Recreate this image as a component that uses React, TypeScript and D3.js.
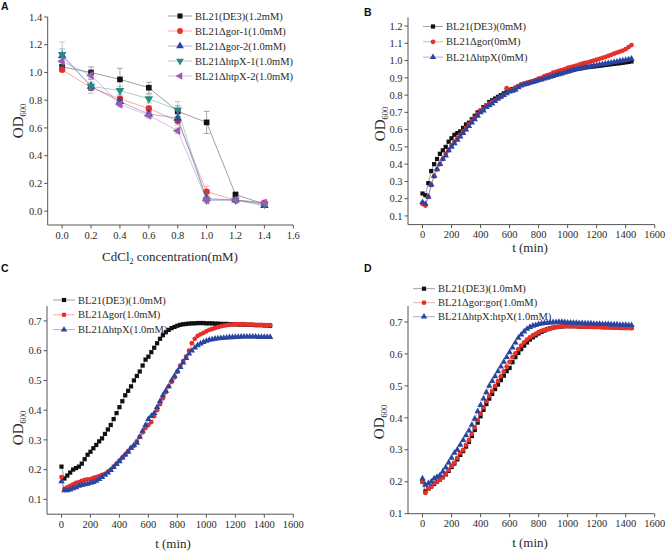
import React from "react";
import * as d3 from "d3";

// ---------- DATA ----------
const CONC = [0, 0.2, 0.4, 0.6, 0.8, 1.0, 1.2, 1.4];
const A_DE3 = [1.04, 1.0, 0.95, 0.89, 0.72, 0.64, 0.12, 0.05];
const A_DE3_ERR = [0.01, 0.04, 0.08, 0.04, 0.04, 0.08, 0.01, 0.01];
const A_GOR1 = [1.02, 0.89, 0.81, 0.74, 0.65, 0.14, 0.08, 0.06];
const A_GOR1_ERR = [0.01, 0.02, 0.02, 0.02, 0.03, 0.04, 0.01, 0.01];
const A_GOR2 = [1.12, 0.9, 0.79, 0.7, 0.67, 0.09, 0.08, 0.04];
const A_GOR2_ERR = [0.05, 0.03, 0.03, 0.02, 0.03, 0.02, 0.01, 0.01];
const A_HTPX1 = [1.13, 0.9, 0.87, 0.81, 0.73, 0.08, 0.08, 0.05];
const A_HTPX1_ERR = [0.09, 0.05, 0.03, 0.03, 0.06, 0.02, 0.01, 0.01];
const A_HTPX2 = [1.08, 0.98, 0.77, 0.69, 0.58, 0.08, 0.08, 0.06];
const A_HTPX2_ERR = [0.03, 0.03, 0.02, 0.02, 0.02, 0.02, 0.01, 0.01];

const TIME = [
  0, 20, 40, 60, 80, 100, 120, 140, 160, 180, 200, 220, 240, 260, 280, 300, 320, 340, 360, 380,
  400, 420, 440, 460, 480, 500, 520, 540, 560, 580, 600, 620, 640, 660, 680, 700, 720, 740, 760, 780,
  800, 820, 840, 860, 880, 900, 920, 940, 960, 980, 1000, 1020, 1040, 1060, 1080, 1100, 1120, 1140, 1160, 1180,
  1200, 1220, 1240, 1260, 1280, 1300, 1320, 1340, 1360, 1380, 1400, 1420, 1440,
];

const B_DE3 = [
  0.23, 0.22, 0.29, 0.36, 0.40, 0.43, 0.46, 0.48, 0.50, 0.53,
  0.55, 0.57, 0.58, 0.59, 0.61, 0.63, 0.64, 0.66, 0.68, 0.70,
  0.71, 0.73, 0.74, 0.76, 0.77, 0.78, 0.79, 0.80, 0.81, 0.82,
  0.83, 0.835, 0.84, 0.85, 0.86, 0.865, 0.87, 0.875, 0.88, 0.885,
  0.89, 0.895, 0.90, 0.905, 0.91, 0.915, 0.92, 0.925, 0.93, 0.935,
  0.94, 0.943, 0.946, 0.95, 0.953, 0.956, 0.96, 0.962, 0.964, 0.966,
  0.968, 0.97, 0.972, 0.975, 0.977, 0.979, 0.981, 0.983, 0.985, 0.987,
  0.99, 0.992, 0.995,
];
const B_GOR = [
  0.17, 0.16, 0.21, 0.28, 0.33, 0.37, 0.40, 0.43, 0.46, 0.48,
  0.51, 0.53, 0.55, 0.57, 0.59, 0.61, 0.63, 0.65, 0.67, 0.69,
  0.71, 0.72, 0.74, 0.75, 0.76, 0.77, 0.78, 0.79, 0.80, 0.84,
  0.83, 0.83, 0.845, 0.85, 0.86, 0.865, 0.87, 0.875, 0.88, 0.885,
  0.895, 0.90, 0.91, 0.915, 0.92, 0.93, 0.935, 0.94, 0.945, 0.95,
  0.958, 0.962, 0.966, 0.97, 0.976, 0.982, 0.986, 0.99, 0.995, 1.0,
  1.005, 1.01, 1.015, 1.02, 1.027, 1.033, 1.04, 1.046, 1.052, 1.058,
  1.066, 1.078, 1.09,
];
const B_HTPX = [
  0.18, 0.17, 0.21, 0.28, 0.33, 0.37, 0.40, 0.43, 0.45, 0.48,
  0.50, 0.52, 0.54, 0.56, 0.58, 0.60, 0.62, 0.64, 0.66, 0.68,
  0.70, 0.71, 0.73, 0.74, 0.75, 0.765, 0.78, 0.79, 0.80, 0.81,
  0.82, 0.825, 0.83, 0.845, 0.855, 0.86, 0.865, 0.87, 0.875, 0.88,
  0.885, 0.89, 0.895, 0.90, 0.905, 0.91, 0.915, 0.92, 0.925, 0.93,
  0.935, 0.94, 0.945, 0.95, 0.953, 0.956, 0.96, 0.963, 0.966, 0.97,
  0.973, 0.976, 0.979, 0.982, 0.985, 0.988, 0.991, 0.994, 0.997, 1.0,
  1.003, 1.007, 1.01,
];

const C_DE3 = [
  0.21, 0.17, 0.18, 0.19, 0.20, 0.205, 0.21, 0.22, 0.235, 0.25,
  0.26, 0.272, 0.283, 0.295, 0.305, 0.32, 0.335, 0.35, 0.37, 0.39,
  0.41, 0.43, 0.45, 0.465, 0.48, 0.50, 0.515, 0.53, 0.55, 0.57,
  0.58, 0.595, 0.61, 0.625, 0.64, 0.652, 0.662, 0.67, 0.676, 0.68,
  0.684, 0.687, 0.689, 0.69, 0.691, 0.692, 0.692, 0.693, 0.693, 0.693,
  0.692, 0.692, 0.692, 0.691, 0.691, 0.69, 0.69, 0.69, 0.689, 0.689,
  0.689, 0.688, 0.688, 0.688, 0.687, 0.687, 0.687, 0.686, 0.686, 0.686,
  0.685, 0.685, 0.684,
];
const C_GOR = [
  0.175, 0.135, 0.14, 0.145, 0.15, 0.155, 0.158, 0.162, 0.165, 0.167,
  0.168, 0.172, 0.175, 0.178, 0.182, 0.186, 0.192, 0.20, 0.21, 0.22,
  0.23, 0.24, 0.25, 0.262, 0.273, 0.28, 0.295, 0.31, 0.325, 0.34,
  0.35, 0.36, 0.38, 0.40, 0.42, 0.44, 0.46, 0.48, 0.495, 0.51,
  0.53, 0.55, 0.565, 0.58, 0.60, 0.625, 0.64, 0.65, 0.655, 0.66,
  0.665, 0.67, 0.673, 0.676, 0.679, 0.682, 0.684, 0.686, 0.687, 0.688,
  0.689, 0.689, 0.689, 0.689, 0.688, 0.688, 0.688, 0.687, 0.687, 0.687,
  0.686, 0.686, 0.686,
];
const C_HTPX = [
  0.16, 0.13, 0.13, 0.133, 0.137, 0.14, 0.145, 0.148, 0.15, 0.152,
  0.155, 0.158, 0.162, 0.168, 0.175, 0.182, 0.19, 0.198, 0.208, 0.218,
  0.228, 0.24, 0.25, 0.26, 0.272, 0.282, 0.29, 0.31, 0.33, 0.35,
  0.37, 0.38, 0.39, 0.41, 0.43, 0.45, 0.465, 0.48, 0.50, 0.515,
  0.53, 0.545, 0.56, 0.575, 0.59, 0.60, 0.61, 0.618, 0.624, 0.629,
  0.633, 0.636, 0.638, 0.64, 0.641, 0.642, 0.643, 0.644, 0.645, 0.645,
  0.646, 0.646, 0.647, 0.647, 0.647, 0.647, 0.647, 0.647, 0.646, 0.646,
  0.646, 0.646, 0.646,
];

const D_DE3 = [
  0.20, 0.17, 0.178, 0.185, 0.193, 0.2, 0.207, 0.214, 0.223, 0.234,
  0.246, 0.257, 0.27, 0.284, 0.296, 0.31, 0.325, 0.343, 0.362, 0.385,
  0.405, 0.425, 0.443, 0.46, 0.475, 0.49, 0.504, 0.518, 0.532, 0.546,
  0.556, 0.574, 0.59, 0.603, 0.615, 0.626, 0.636, 0.645, 0.652, 0.658,
  0.664, 0.669, 0.673, 0.677, 0.68, 0.682, 0.684, 0.685, 0.686, 0.687,
  0.687, 0.687, 0.687, 0.687, 0.686, 0.686, 0.686, 0.686, 0.685, 0.685,
  0.685, 0.685, 0.684, 0.684, 0.684, 0.684, 0.683, 0.683, 0.683, 0.683,
  0.682, 0.682, 0.682,
];
const D_GOR = [
  0.20, 0.165, 0.178, 0.185, 0.195, 0.20, 0.208, 0.215, 0.225, 0.237,
  0.25, 0.26, 0.275, 0.29, 0.30, 0.315, 0.33, 0.35, 0.37, 0.393,
  0.413, 0.433, 0.452, 0.468, 0.484, 0.50, 0.515, 0.53, 0.545, 0.56,
  0.575, 0.59, 0.602, 0.615, 0.626, 0.636, 0.645, 0.652, 0.658, 0.663,
  0.668, 0.672, 0.675, 0.678, 0.68, 0.682, 0.684, 0.685, 0.686, 0.687,
  0.687, 0.687, 0.687, 0.686, 0.686, 0.686, 0.685, 0.685, 0.685, 0.684,
  0.684, 0.684, 0.683, 0.683, 0.683, 0.682, 0.682, 0.682, 0.681, 0.681,
  0.681, 0.681, 0.68,
];
const D_HTPX = [
  0.21, 0.19, 0.195, 0.20, 0.21, 0.215, 0.22, 0.232, 0.245, 0.26,
  0.275, 0.29, 0.30, 0.315, 0.33, 0.345, 0.36, 0.378, 0.397, 0.42,
  0.44, 0.46, 0.48, 0.50, 0.515, 0.53, 0.545, 0.56, 0.575, 0.59,
  0.605, 0.62, 0.635, 0.65, 0.66, 0.67, 0.678, 0.684, 0.688, 0.69,
  0.693, 0.695, 0.696, 0.697, 0.698, 0.699, 0.699, 0.70, 0.70, 0.699,
  0.698, 0.698, 0.697, 0.697, 0.696, 0.696, 0.695, 0.695, 0.695, 0.694,
  0.694, 0.694, 0.693, 0.693, 0.693, 0.692, 0.692, 0.692, 0.691, 0.691,
  0.691, 0.69, 0.69,
];

const A_XTICKS = [0, 0.2, 0.4, 0.6, 0.8, 1.0, 1.2, 1.4, 1.6];
const A_YTICKS = [0, 0.2, 0.4, 0.6, 0.8, 1.0, 1.2, 1.4];
const T_XTICKS = [0, 200, 400, 600, 800, 1000, 1200, 1400, 1600];
const B_YTICKS = [0.1, 0.2, 0.3, 0.4, 0.5, 0.6, 0.7, 0.8, 0.9, 1.0, 1.1, 1.2];
const CD_YTICKS = [0.1, 0.2, 0.3, 0.4, 0.5, 0.6, 0.7];

// ---------- STYLE ----------
const BLACK = "#111111";
const RED = "#e8302a";
const BLUE = "#2a45a0";
const TEAL = "#2a8a82";
const PURPLE = "#9c5cb4";
const SERIF = "'Liberation Serif', 'Times New Roman', serif";
const SANS = "'Liberation Sans', Arial, sans-serif";
const AXIS = "#555";
const TXT = "#2a2a2a";

type Shape = "square" | "circle" | "triUp" | "triDown" | "triLeft";
type Series = {
  name: string;
  color: string;
  shape: Shape;
  x: number[];
  y: number[];
  err?: number[];
};

function symbolPath(shape: Shape, area: number) {
  const t =
    shape === "square"
      ? d3.symbolSquare
      : shape === "circle"
      ? d3.symbolCircle
      : d3.symbolTriangle;
  return d3.symbol().type(t).size(area)() as string;
}

function Marker({ shape, x, y, area, color }: { shape: Shape; x: number; y: number; area: number; color: string }) {
  const rot = shape === "triDown" ? 180 : shape === "triLeft" ? -90 : 0;
  return (
    <path
      d={symbolPath(shape, area)}
      transform={`translate(${x},${y}) rotate(${rot})`}
      fill={color}
    />
  );
}

type PanelProps = {
  letter: string;
  letterPos: [number, number];
  xDomain: [number, number];
  xRange: [number, number];
  yDomain: [number, number];
  yRange: [number, number];
  xTicks: number[];
  yTicks: number[];
  xFmt: (v: number) => string;
  yFmt: (v: number) => string;
  series: Series[];
  xTitle: React.ReactNode;
  xTitlePos: [number, number];
  yTitlePos: [number, number];
  legendPos: [number, number];
  legendLine: number;
  legendStep: number;
  area: number;
  legendArea: number;
};

function Panel(p: PanelProps) {
  const xs = d3.scaleLinear().domain(p.xDomain).range(p.xRange);
  const ys = d3.scaleLinear().domain(p.yDomain).range(p.yRange);
  const line = d3
    .line<[number, number]>()
    .x((d) => xs(d[0]))
    .y((d) => ys(d[1]));
  const x0 = p.xRange[0];
  const yb = p.yRange[0];
  const tick = 3.5;
  return (
    <g>
      <text x={p.letterPos[0]} y={p.letterPos[1]} fontFamily={SANS} fontWeight="bold" fontSize={10.5} fill="#111">
        {p.letter}
      </text>
      {/* axes */}
      <line x1={x0} x2={x0} y1={p.yRange[1]} y2={yb} stroke={AXIS} strokeWidth={1} />
      <line x1={x0} x2={p.xRange[1]} y1={yb} y2={yb} stroke={AXIS} strokeWidth={1} />
      {p.yTicks.map((t) => (
        <g key={"y" + t}>
          <line x1={x0 - tick} x2={x0} y1={ys(t)} y2={ys(t)} stroke={AXIS} strokeWidth={1} />
          <text x={x0 - 5.5} y={ys(t)} dy="0.35em" textAnchor="end" fontFamily={SERIF} fontSize={10.5} fill={TXT}>
            {p.yFmt(t)}
          </text>
        </g>
      ))}
      {p.xTicks.map((t) => (
        <g key={"x" + t}>
          <line x1={xs(t)} x2={xs(t)} y1={yb} y2={yb + tick} stroke={AXIS} strokeWidth={1} />
          <text x={xs(t)} y={yb + 13.5} textAnchor="middle" fontFamily={SERIF} fontSize={10.5} fill={TXT}>
            {p.xFmt(t)}
          </text>
        </g>
      ))}
      {/* titles */}
      <text x={p.xTitlePos[0]} y={p.xTitlePos[1]} textAnchor="middle" fontFamily={SERIF} fontSize={13} fill={TXT}>
        {p.xTitle}
      </text>
      <text
        transform={`translate(${p.yTitlePos[0]},${p.yTitlePos[1]}) rotate(-90)`}
        textAnchor="middle"
        fontFamily={SERIF}
        fontSize={15}
        fill={TXT}
      >
        OD
        <tspan fontSize={8.5} dy={3}>
          600
        </tspan>
      </text>
      {/* series */}
      {p.series.map((s, si) => {
        const pts: [number, number][] = s.x.map((xv, i) => [xv, s.y[i]]);
        return (
          <g key={"s" + si}>
            {s.err &&
              s.err.map((e, i) => {
                const cx = xs(s.x[i]);
                return (
                  <g key={"e" + i} stroke={s.color} strokeOpacity={0.45} strokeWidth={0.8}>
                    <line x1={cx} x2={cx} y1={ys(s.y[i] - e)} y2={ys(s.y[i] + e)} />
                    <line x1={cx - 3} x2={cx + 3} y1={ys(s.y[i] + e)} y2={ys(s.y[i] + e)} />
                    <line x1={cx - 3} x2={cx + 3} y1={ys(s.y[i] - e)} y2={ys(s.y[i] - e)} />
                  </g>
                );
              })}
            <path d={line(pts) as string} fill="none" stroke={s.color} strokeOpacity={0.5} strokeWidth={0.8} />
            {pts.map((d, i) => (
              <Marker key={i} shape={s.shape} x={xs(d[0])} y={ys(d[1])} area={p.area} color={s.color} />
            ))}
          </g>
        );
      })}
      {/* legend */}
      {p.series.map((s, si) => {
        const ly = p.legendPos[1] + si * p.legendStep;
        const lx = p.legendPos[0];
        return (
          <g key={"l" + si}>
            <line x1={lx} x2={lx + p.legendLine} y1={ly} y2={ly} stroke={s.color} strokeOpacity={0.5} strokeWidth={0.8} />
            <Marker shape={s.shape} x={lx + p.legendLine / 2} y={ly} area={p.legendArea} color={s.color} />
            <text x={lx + p.legendLine + 3} y={ly} dy="0.35em" fontFamily={SERIF} fontSize={10.5} fill={TXT}>
              {s.name}
            </text>
          </g>
        );
      })}
    </g>
  );
}

const f1 = d3.format(".1f");
const f0 = d3.format("d");

export default function App() {
  const seriesA: Series[] = [
    { name: "BL21(DE3)(1.2mM)", color: BLACK, shape: "square", x: CONC, y: A_DE3, err: A_DE3_ERR },
    { name: "BL21\u0394gor-1(1.0mM)", color: RED, shape: "circle", x: CONC, y: A_GOR1, err: A_GOR1_ERR },
    { name: "BL21\u0394gor-2(1.0mM)", color: BLUE, shape: "triUp", x: CONC, y: A_GOR2, err: A_GOR2_ERR },
    { name: "BL21\u0394htpX-1(1.0mM)", color: TEAL, shape: "triDown", x: CONC, y: A_HTPX1, err: A_HTPX1_ERR },
    { name: "BL21\u0394htpX-2(1.0mM)", color: PURPLE, shape: "triLeft", x: CONC, y: A_HTPX2, err: A_HTPX2_ERR },
  ];
  const seriesB: Series[] = [
    { name: "BL21(DE3)(0mM)", color: BLACK, shape: "square", x: TIME, y: B_DE3 },
    { name: "BL21\u0394gor(0mM)", color: RED, shape: "circle", x: TIME, y: B_GOR },
    { name: "BL21\u0394htpX(0mM)", color: BLUE, shape: "triUp", x: TIME, y: B_HTPX },
  ];
  const seriesC: Series[] = [
    { name: "BL21(DE3)(1.0mM)", color: BLACK, shape: "square", x: TIME, y: C_DE3 },
    { name: "BL21\u0394gor(1.0mM)", color: RED, shape: "circle", x: TIME, y: C_GOR },
    { name: "BL21\u0394htpX(1.0mM)", color: BLUE, shape: "triUp", x: TIME, y: C_HTPX },
  ];
  const seriesD: Series[] = [
    { name: "BL21(DE3)(1.0mM)", color: BLACK, shape: "square", x: TIME, y: D_DE3 },
    { name: "BL21\u0394gor:gor(1.0mM)", color: RED, shape: "circle", x: TIME, y: D_GOR },
    { name: "BL21\u0394htpX:htpX(1.0mM)", color: BLUE, shape: "triUp", x: TIME, y: D_HTPX },
  ];
  const tTitle = "t (min)";
  return (
    <svg width={666} height={553} style={{ position: "absolute", left: 0, top: 0, background: "#fff" }}>
      <rect width={666} height={553} fill="#fff" />
      <Panel
        letter="A"
        letterPos={[1, 10]}
        xDomain={[-0.1, 1.6]}
        xRange={[47.7, 293.3]}
        yDomain={[-0.1, 1.4]}
        yRange={[225, 17]}
        xTicks={A_XTICKS}
        yTicks={A_YTICKS}
        xFmt={f1}
        yFmt={f1}
        series={seriesA}
        xTitle={
          <>
            CdCl
            <tspan fontSize={8} dy={3}>
              2
            </tspan>
            <tspan dy={-3}> concentration(mM)</tspan>
          </>
        }
        xTitlePos={[170, 261]}
        yTitlePos={[23, 121]}
        legendPos={[168, 16]}
        legendLine={24}
        legendStep={15}
        area={32}
        legendArea={26}
      />
      <Panel
        letter="B"
        letterPos={[364, 16]}
        xDomain={[-100, 1600]}
        xRange={[408, 654.7]}
        yDomain={[0.05, 1.25]}
        yRange={[224.6, 17.4]}
        xTicks={T_XTICKS}
        yTicks={B_YTICKS}
        xFmt={f0}
        yFmt={f1}
        series={seriesB}
        xTitle={tTitle}
        xTitlePos={[530, 252]}
        yTitlePos={[385, 124]}
        legendPos={[423, 26.5]}
        legendLine={20}
        legendStep={15.3}
        area={18}
        legendArea={18}
      />
      <Panel
        letter="C"
        letterPos={[1, 272]}
        xDomain={[-100, 1600]}
        xRange={[47, 293.3]}
        yDomain={[0.05, 0.75]}
        yRange={[514.2, 306.1]}
        xTicks={T_XTICKS}
        yTicks={CD_YTICKS}
        xFmt={f0}
        yFmt={f1}
        series={seriesC}
        xTitle={tTitle}
        xTitlePos={[173, 548]}
        yTitlePos={[23, 428]}
        legendPos={[53, 300]}
        legendLine={22}
        legendStep={14.8}
        area={18}
        legendArea={18}
      />
      <Panel
        letter="D"
        letterPos={[364, 272]}
        xDomain={[-100, 1600]}
        xRange={[408, 654.7]}
        yDomain={[0.1, 0.75]}
        yRange={[513.7, 306]}
        xTicks={T_XTICKS}
        yTicks={CD_YTICKS}
        xFmt={f0}
        yFmt={f1}
        series={seriesD}
        xTitle={tTitle}
        xTitlePos={[530, 547]}
        yTitlePos={[384, 422]}
        legendPos={[413, 288.7]}
        legendLine={22}
        legendStep={14}
        area={18}
        legendArea={18}
      />
    </svg>
  );
}
